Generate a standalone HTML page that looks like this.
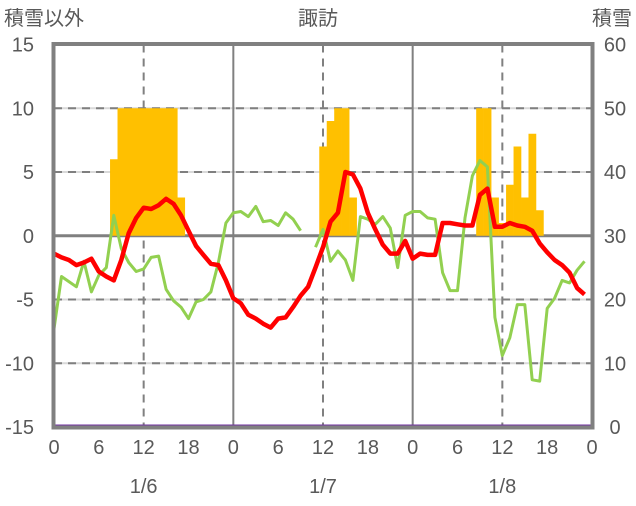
<!DOCTYPE html>
<html><head><meta charset="utf-8"><style>
body{margin:0;background:#fff}
svg text{font-family:"Liberation Sans","Noto Sans CJK JP",sans-serif;fill:#595959;font-size:20px}
</style></head><body>
<svg id="chart" width="636" height="501" viewBox="0 0 636 501" xmlns="http://www.w3.org/2000/svg">
<g id="grid"></g>
<g id="bars"></g>
<g id="lines"></g>
<g id="frame"></g>
<g id="labels"></g>
</svg>
<script>
const leftTicks=[15,10,5,0,-5,-10,-15];
const rightTicks=[60,50,40,30,20,10,0];
const hourTicks=[0,6,12,18,0,6,12,18,0,6,12,18,0];
const dates=["1/6","1/7","1/8"];
const temp=[-1.4,-1.7,-1.9,-2.3,-2.1,-1.8,-2.8,-3.2,-3.5,-1.9,0.2,1.4,2.2,2.1,2.4,2.9,2.5,1.6,0.4,-0.8,-1.5,-2.2,-2.3,-3.5,
-4.9,-5.3,-6.2,-6.5,-6.9,-7.2,-6.5,-6.4,-5.6,-4.7,-4.0,-2.5,-0.9,1.1,1.8,5.0,4.8,3.7,1.8,0.5,-0.7,-1.4,-1.4,-0.4,
-1.8,-1.4,-1.5,-1.5,1.0,1.0,0.9,0.8,0.8,3.2,3.7,0.7,0.7,1.0,0.8,0.7,0.4,-0.6,-1.3,-1.9,-2.3,-2.9,-4.1,-4.6];
const green=[-7.3,-3.2,-3.6,-4.0,-2.0,-4.4,-3.1,-2.5,1.6,-1.0,-2.1,-2.8,-2.6,-1.7,-1.6,-4.2,-5.1,-5.6,-6.5,-5.2,-5.0,-4.4,-2.1,1.0,
1.8,1.9,1.5,2.3,1.1,1.2,0.8,1.8,1.3,0.4,null,-0.9,0.5,-2.0,-1.2,-1.9,-3.5,1.5,1.3,0.9,1.5,0.6,-2.5,1.6,
1.9,1.9,1.4,1.3,-2.9,-4.3,-4.3,1.4,4.7,5.9,5.4,-6.4,-9.4,-8.0,-5.4,-5.4,-11.3,-11.4,-5.7,-4.9,-3.5,-3.7,-2.7,-2.0];
const snowHours=[8,9,10,11,12,13,14,15,16,17, 36,37,38,39,40, 57,58,59,60,61,62,63,64,65];
const snowValues=[42,50,50,50,50,50,50,50,50,36, 44,48,50,50,36, 50,50,36,32,38,44,36,46,34];
const snowBase=30;
const X0=54,X1=592,Y0=44.5,Y1=427;
const xs=h=>X0+(X1-X0)*h/72;
const yl=v=>Y1-(v+15)/30*(Y1-Y0);
const yr=v=>Y1-v/60*(Y1-Y0);
const NS="http://www.w3.org/2000/svg";
function mk(p,tag,a){const e=document.createElementNS(NS,tag);for(const k in a)e.setAttribute(k,a[k]);p.appendChild(e);return e;}
const grid=document.getElementById('grid'),bars=document.getElementById('bars'),lines=document.getElementById('lines'),frame=document.getElementById('frame'),labels=document.getElementById('labels');
leftTicks.forEach(v=>{
  if(v===15||v===-15)return;
  const y=yl(v);
  if(v===0){const l=mk(grid,'line',{x1:X0,x2:X1,y1:y,y2:y,stroke:'#808080','stroke-width':3});
    
    }
  else{mk(grid,'line',{x1:X0,x2:X1,y1:y,y2:y,stroke:'#d9d9d9','stroke-width':2});
    const l=mk(grid,'line',{x1:X0,x2:X1,y1:y,y2:y,stroke:'#7f7f7f','stroke-width':2,'stroke-dasharray':'8,6'});
    
    }
});
[12,24,36,48,60].forEach(h=>{
  const x=xs(h);
  const l=mk(grid,'line',{x1:x,x2:x,y1:Y0,y2:Y1,stroke:'#808080','stroke-width':2,'stroke-dasharray':h%24?'8,6':'none'});
  
  
});
snowHours.forEach((h,i)=>{
  const w=(X1-X0)/72;
  const r=mk(bars,'rect',{x:xs(h)-w/2,width:w+0.3,y:yr(snowValues[i]),height:yr(snowBase)-yr(snowValues[i]),fill:'#ffc000'});
  
  
});
function path(data,color,w,name){
  let d='',pen=false;
  data.forEach((v,i)=>{if(v===null){pen=false;return;}d+=(pen?'L':'M')+xs(i).toFixed(1)+','+yl(v).toFixed(1);pen=true;});
  const p=mk(lines,'path',{d:d,fill:'none',stroke:color,'stroke-width':w,'stroke-linejoin':'round'});
  
  
}
path(green,'#92d050',3,'green-line');
path(temp,'#ff0000',4.5,'temperature-line');
const pl=mk(lines,'line',{x1:X0,x2:X1,y1:Y1-1,y2:Y1-1,stroke:'#7030a0','stroke-width':3});


const fr=mk(frame,'rect',{x:X0-0.5,y:Y0-0.5,width:X1-X0+1,height:Y1-Y0+1,fill:'none',stroke:'#808080','stroke-width':4});


function txt(x,y,s,anchor,name){const t=mk(labels,'text',{x:x,y:y,'text-anchor':anchor});t.textContent=s;
  
  return t;}
leftTicks.forEach(v=>txt(34,yl(v)+7,String(v),'end','left-tick-label'));
rightTicks.forEach(v=>txt(615,yr(v)+7,String(v),'middle','right-tick-label'));
hourTicks.forEach((v,i)=>txt(xs(i*6),454,String(v),'middle','x-tick-label'));
dates.forEach((s,i)=>txt(xs(i*24+12),493,s,'middle','date-label'));
txt(4,25,'積雪以外','start','left-axis-title');
txt(318,25,'諏訪','middle','chart-title');
txt(632,25,'積雪','end','right-axis-title');
</script>
</body></html>
